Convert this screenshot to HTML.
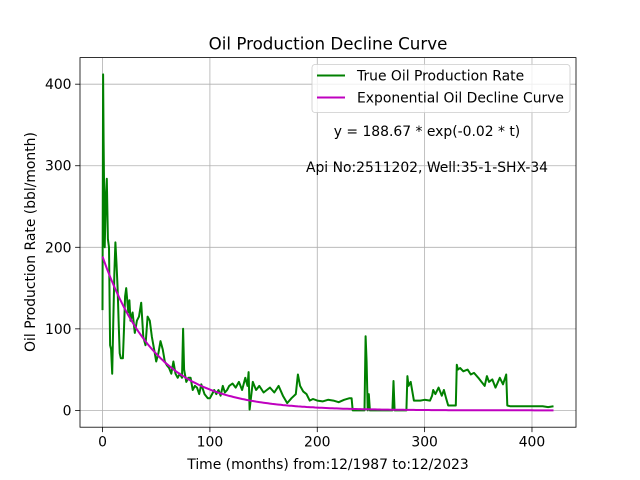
<!DOCTYPE html>
<html><head><meta charset="utf-8"><style>
body{margin:0;background:#fff}
svg{display:block;font-family:"DejaVu Sans","Liberation Sans",sans-serif}
</style></head><body>
<svg id="chart" width="640" height="480"></svg>
<script>
const months=[0,0.5,1,2,3,4,5,6,7,8,9,10,11,12,13,14,15,16,17,19,20,21,22,24,25,26,28,30,32,34,36,38,40,42,44,46,48,50,52,54,56,58,60,62,64,66,68,70,72,74,75,76,78,80,82,84,86,88,90,92,95,98,100,102,104,106,108,110,112,114,116,118,121,124,127,130,133,135,136,137,140,143,146,150,153,156,160,164,168,172,176,180,182,184,187,190,193,196,200,205,210,215,220,225,230,232,233,240,244,245,246,247,248,249,250,251,260,270,271,272,283,284,285,287,290,293,296,300,305,307,308,310,313,316,318,320,322,329,330,331,333,336,340,343,346,350,353,356,358,360,363,366,370,373,376,377,380,390,400,410,415,420];
const rates=[123,412,330,200,260,284,210,200,80,75,45,110,170,206,180,150,110,70,64,64,100,140,150,120,135,110,120,95,110,115,132,90,80,115,110,90,75,60,70,85,75,60,55,52,45,60,45,40,45,40,100,50,35,40,40,25,30,28,20,32,20,15,15,20,25,20,25,18,30,22,25,30,33,28,35,25,40,30,47,1,35,25,30,22,25,28,22,30,18,9,15,20,44,30,23,20,12,14,12,11,13,12,10,13,15,15,0,0,0,91,60,0,20,0,0,0,0,0,36,0,0,42,30,35,12,12,12,13,12,18,25,20,28,18,25,15,6,6,56,50,52,48,50,44,46,40,35,30,42,35,38,28,40,32,44,6,5,5,5,5,4,5];
const expA=188.67, expK=-0.02;
const X0=-21,X1=441,Y0=-20.6,Y1=432.6;
const L=80,R=576,T=57.6,B=427.2;
const sx=v=>L+(v-X0)/(X1-X0)*(R-L), sy=v=>B-(v-Y0)/(Y1-Y0)*(B-T);
const xTicks=[0,100,200,300,400], yTicks=[0,100,200,300,400];
const svg=document.getElementById('chart');const NS='http://www.w3.org/2000/svg';
function mk(t,a,txt){const e=document.createElementNS(NS,t);for(const k in a)e.setAttribute(k,a[k]);if(txt!=null)e.textContent=txt;svg.appendChild(e);return e;}
xTicks.forEach(v=>{const x=sx(v);
const g=mk('line',{x1:x,x2:x,y1:T,y2:B,stroke:'#b0b0b0','stroke-width':0.8});


const t=mk('line',{x1:x,x2:x,y1:B,y2:B+4.9,stroke:'#000','stroke-width':0.8});


const l=mk('text',{x:x,y:B+19.5,'font-size':13.9,'text-anchor':'middle'},String(v));

});
yTicks.forEach(v=>{const y=sy(v);
const g=mk('line',{x1:L,x2:R,y1:y,y2:y,stroke:'#b0b0b0','stroke-width':0.8});


const t=mk('line',{x1:L-4.9,x2:L,y1:y,y2:y,stroke:'#000','stroke-width':0.8});


const l=mk('text',{x:L-8.5,y:y+5,'font-size':13.9,'text-anchor':'end'},String(v));

});
const pts=months.map((m,i)=>sx(m).toFixed(1)+','+sy(rates[i]).toFixed(1)).join(' ');
const s=mk('polyline',{points:pts,fill:'none',stroke:'#008000','stroke-width':2,'stroke-linejoin':'round'});


let ep=[];for(let m=0;m<=420;m+=2)ep.push(sx(m).toFixed(1)+','+sy(expA*Math.exp(expK*m)).toFixed(1));
const e=mk('polyline',{points:ep.join(' '),fill:'none',stroke:'#bf00bf','stroke-width':2});


</script>
<svg style="position:absolute;left:0;top:0;font-family:'DejaVu Sans','Liberation Sans',sans-serif" width="640" height="480">
<rect x="80" y="57.6" width="496" height="369.6" fill="none" stroke="#000" stroke-width="0.8"/>
<text x="328" y="49.5" font-size="16.7" text-anchor="middle">Oil Production Decline Curve</text>
<text x="328" y="469" font-size="13.9" text-anchor="middle">Time (months) from:12/1987 to:12/2023</text>
<text transform="translate(35,242) rotate(-90)" font-size="13.9" text-anchor="middle">Oil Production Rate (bbl/month)</text>
<g>
<rect x="312" y="64.5" width="258" height="48" rx="3" fill="#fff" fill-opacity="0.8" stroke="#ccc" stroke-width="0.8"/>
<line x1="317" x2="345" y1="75.5" y2="75.5" stroke="#008000" stroke-width="2"/>
<text x="357" y="80.5" font-size="13.9">True Oil Production Rate</text>
<line x1="317" x2="345" y1="97.5" y2="97.5" stroke="#bf00bf" stroke-width="2"/>
<text x="357" y="102.5" font-size="13.9">Exponential Oil Decline Curve</text>
</g>
<text x="427" y="136" font-size="13.9" text-anchor="middle">y = 188.67 * exp(-0.02 * t)</text>
<text x="427" y="172" font-size="13.9" text-anchor="middle">Api No:2511202, Well:35-1-SHX-34</text>
</svg>
</body></html>
